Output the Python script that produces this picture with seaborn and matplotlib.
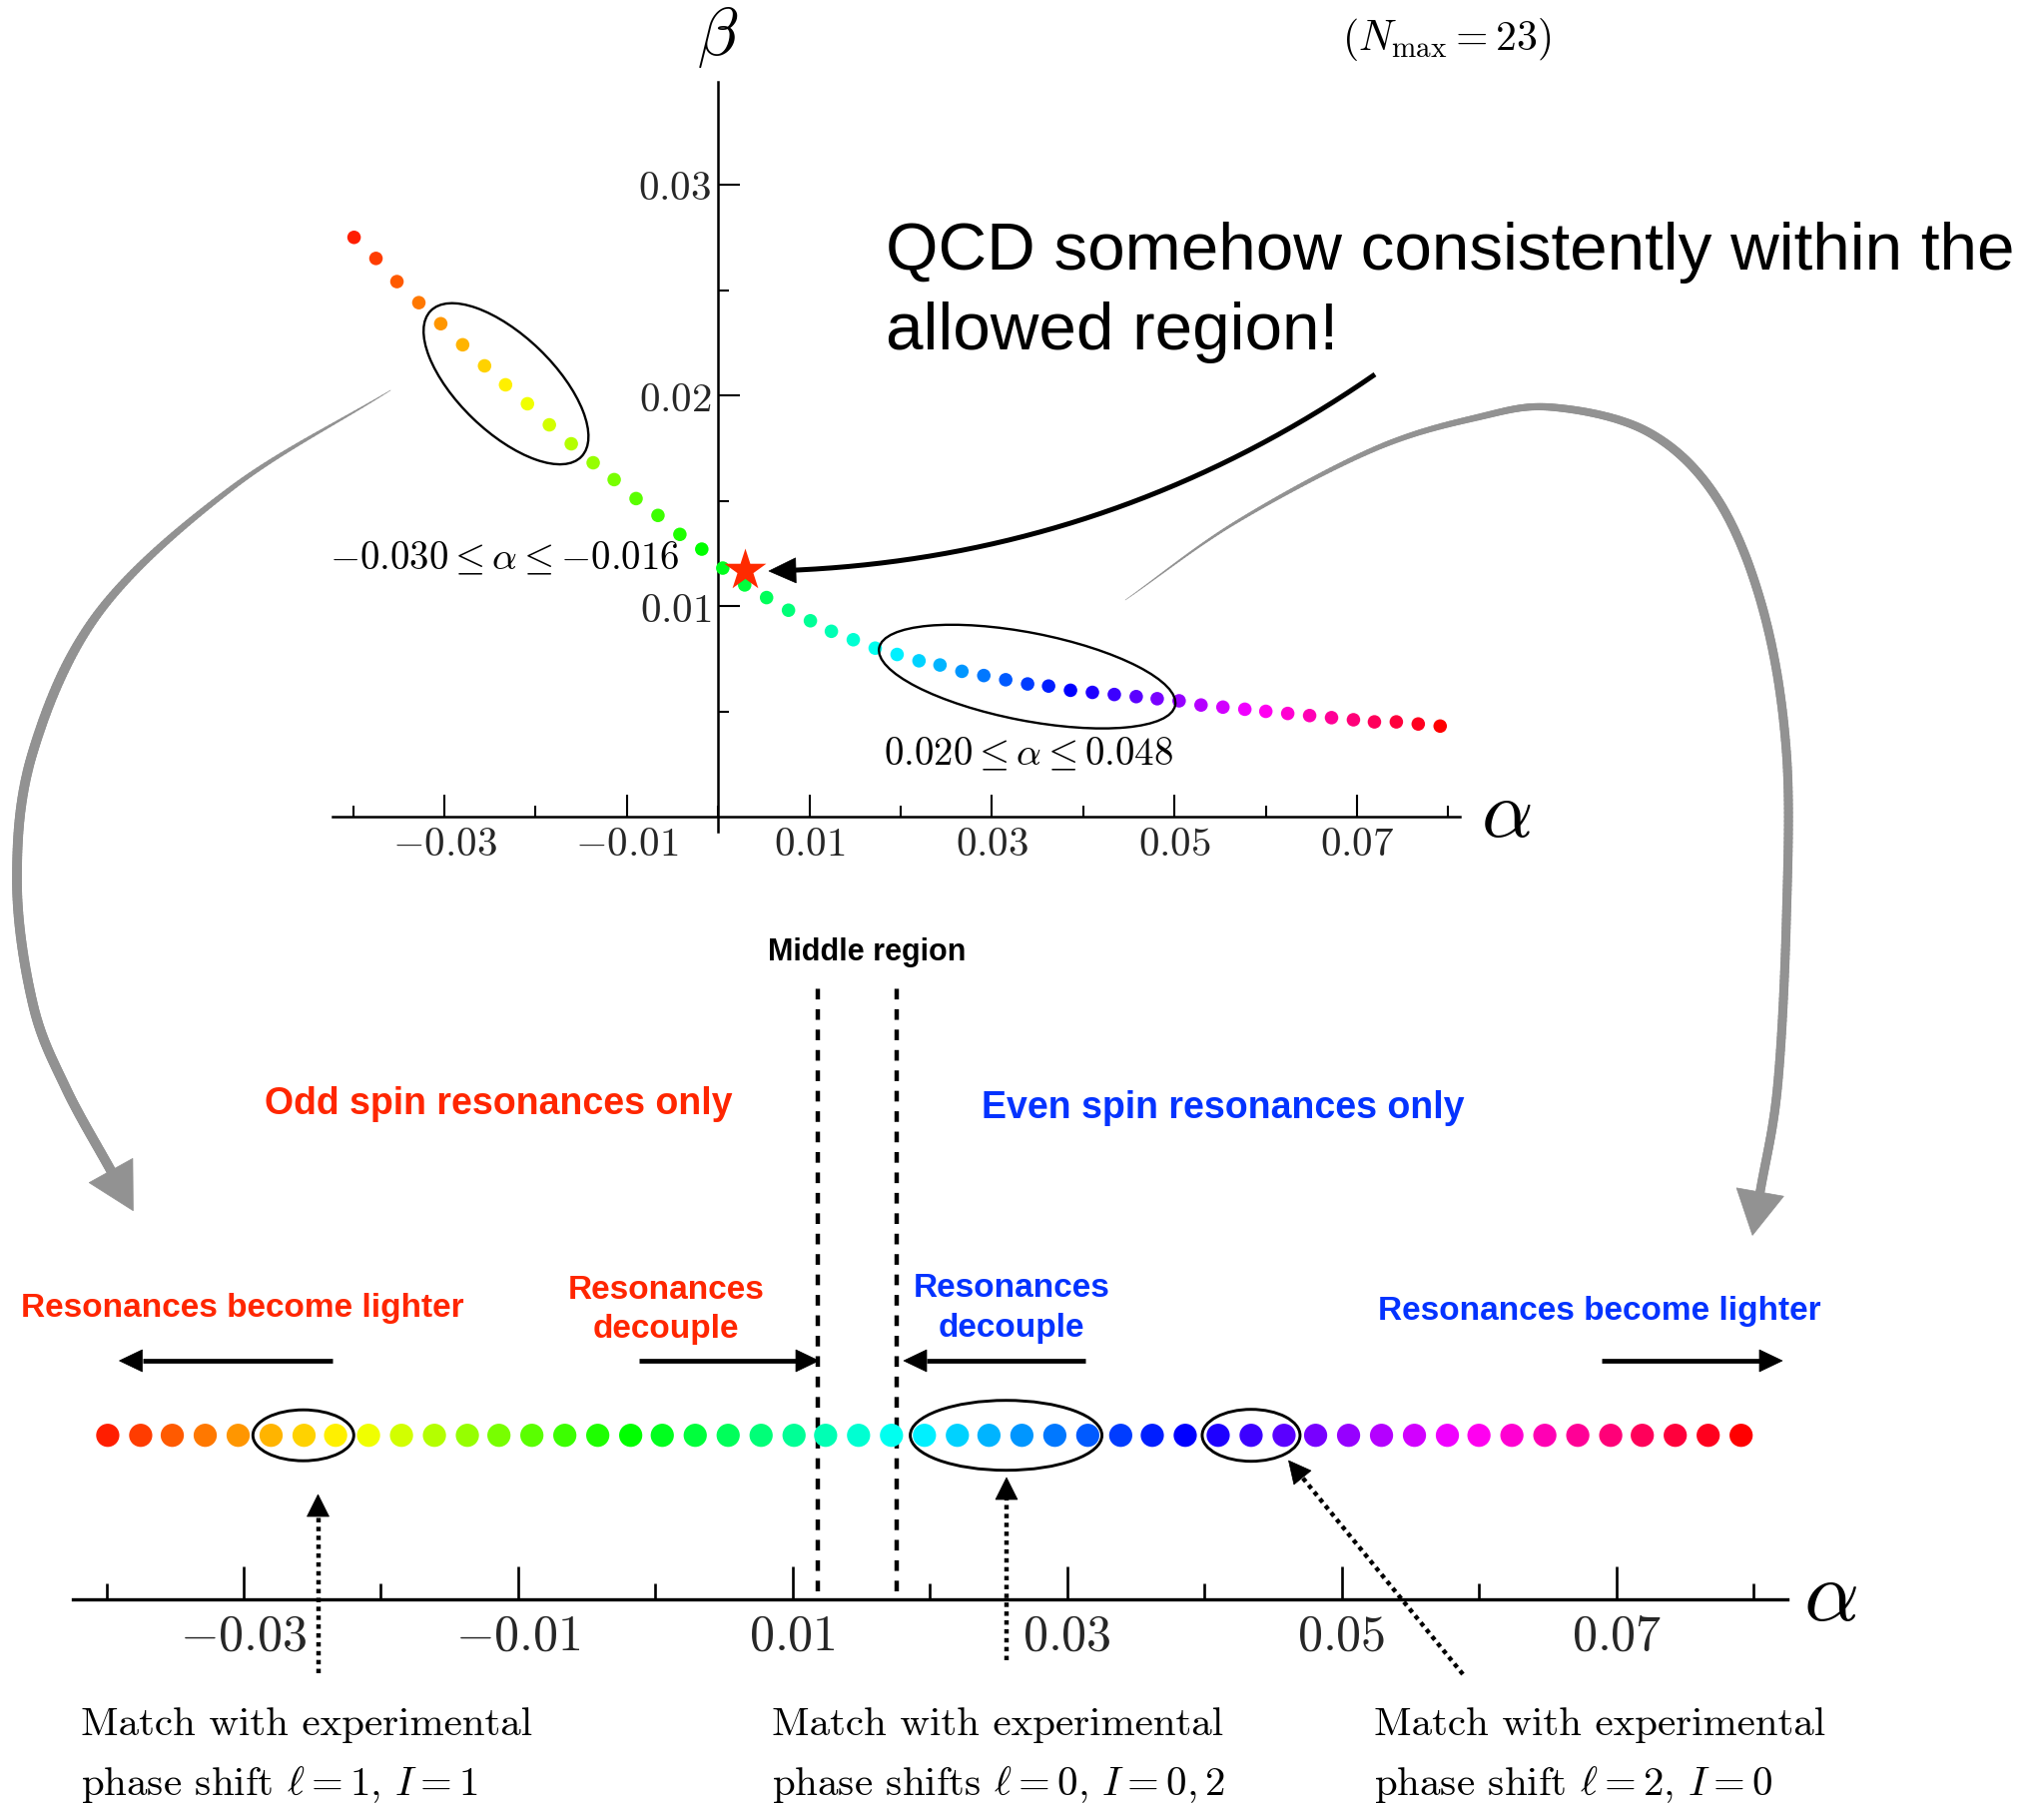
import numpy as np
import matplotlib
matplotlib.use("Agg")
import matplotlib.pyplot as plt
import seaborn as sns
import pandas as pd
import colorsys
from matplotlib.patches import Ellipse, Polygon
from matplotlib.collections import LineCollection

sns.set_theme(style="white")
plt.rcParams['mathtext.fontset'] = 'cm'
plt.rcParams['font.family'] = ['DejaVu Sans']

W, H, DPI = 2047, 1807, 100

# ---------------- data ----------------
alpha = [-0.0399, -0.0375, -0.0352, -0.0328, -0.0304, -0.0280, -0.0256, -0.0233, -0.0209, -0.0185,
         -0.0161, -0.0137, -0.0114, -0.0090, -0.0066, -0.0042, -0.0018, 0.0005, 0.0029, 0.0053,
         0.0077, 0.0101, 0.0124, 0.0148, 0.0172, 0.0196, 0.0220, 0.0243, 0.0267, 0.0291,
         0.0315, 0.0339, 0.0362, 0.0386, 0.0410, 0.0434, 0.0458, 0.0481, 0.0505, 0.0529,
         0.0553, 0.0577, 0.0600, 0.0624, 0.0648, 0.0672, 0.0696, 0.0719, 0.0743, 0.0767, 0.0791]
beta = [0.0275, 0.0265, 0.0254, 0.0244, 0.0234, 0.0224, 0.0214, 0.0205, 0.0196, 0.0186,
        0.0177, 0.0168, 0.0160, 0.0151, 0.0143, 0.0134, 0.0127, 0.0118, 0.0110, 0.0104,
        0.0098, 0.0093, 0.0088, 0.0084, 0.0080, 0.0077, 0.0074, 0.0072, 0.0069, 0.0067,
        0.0065, 0.0063, 0.0062, 0.0060, 0.0059, 0.0058, 0.0057, 0.0056, 0.0055, 0.0053,
        0.0052, 0.0051, 0.0050, 0.0049, 0.0048, 0.0047, 0.0046, 0.0045, 0.0045, 0.0044, 0.0043]
qcd_alpha = [0.0029]
qcd_beta = [0.0117]
middle_bounds = [0.0118, 0.0176]

top_groups = [(4, 10), (25, 37)]          # circled in the (alpha, beta) plot
bottom_groups = [(5, 7), (25, 30), (34, 36)]  # circled in the alpha strip

top_xmajor = [-0.03, -0.01, 0.01, 0.03, 0.05, 0.07]
top_xminor = [-0.04, -0.02, 0.0, 0.02, 0.04, 0.06, 0.08]
x_labels = [r'$-0.03$', r'$-0.01$', r'$0.01$', r'$0.03$', r'$0.05$', r'$0.07$']
top_ymajor = [0.01, 0.02, 0.03]
top_yminor = [0.005, 0.015, 0.025]
y_labels = [r'$0.01$', r'$0.02$', r'$0.03$']

RED = '#ff2600'
BLUE = '#0433ff'
GRAY = '#929292'

n = len(alpha)
idx = list(range(n))
colors = [colorsys.hsv_to_rgb(((k + 1) / n) % 1.0, 1.0, 1.0) for k in idx]
pal = dict(zip(idx, colors))

df = pd.DataFrame({'alpha': alpha, 'beta': beta, 'k': idx})

fig = plt.figure(figsize=(W / DPI, H / DPI), dpi=DPI)
fig.patch.set_facecolor('white')


def add_px_axes(left, top, right, bottom):
    return fig.add_axes([left / W, 1 - bottom / H, (right - left) / W, (bottom - top) / H])


# ---------------- top plot ----------------
ax = add_px_axes(333, 81.6, 1462, 832.8)
ax.patch.set_visible(False)
ax.set_xlim(-0.04226, 0.08126)
ax.set_ylim(-0.0007, 0.0349)
sns.scatterplot(data=df, x='alpha', y='beta', hue='k', palette=pal, s=95,
                linewidth=0, legend=False, ax=ax, zorder=3)
sns.scatterplot(x=qcd_alpha, y=qcd_beta, marker='*', s=1000, color='#ff2a00',
                linewidth=0, legend=False, ax=ax, zorder=4)
for side in ['top', 'right']:
    ax.spines[side].set_visible(False)
ax.spines['left'].set_position(('data', 0))
ax.spines['bottom'].set_position(('data', 0))
for side in ['left', 'bottom']:
    ax.spines[side].set_linewidth(1.8)
    ax.spines[side].set_color('black')
ax.set_xticks(top_xmajor)
ax.set_xticks(top_xminor, minor=True)
ax.set_xticklabels(x_labels)
ax.set_yticks(top_ymajor)
ax.set_yticks(top_yminor, minor=True)
ax.set_yticklabels(y_labels)
ax.tick_params(axis='both', which='both', direction='in', color='black', width=1.5,
               bottom=True, left=True, top=False, right=False)
ax.tick_params(axis='both', which='major', length=16, labelsize=29.5)
ax.tick_params(axis='both', which='minor', length=8)
ax.tick_params(axis='x', which='major', pad=6)
ax.tick_params(axis='y', which='major', pad=5)
ax.set_xlabel('')
ax.set_ylabel('')
ax.grid(False)

# ---------------- bottom strip ----------------
axb = add_px_axes(73, 980, 1790, 1602.3)
axb.patch.set_visible(False)
axb.set_xlim(-0.04244, 0.08247)
axb.set_ylim(0, 622.3)
STRIP_Y = 164.6
sns.scatterplot(x=alpha, y=[STRIP_Y] * n, hue=idx, palette=pal, s=280,
                linewidth=0, legend=False, ax=axb, zorder=3)
for side in ['top', 'right', 'left']:
    axb.spines[side].set_visible(False)
axb.spines['bottom'].set_linewidth(2.4)
axb.spines['bottom'].set_color('black')
axb.set_xticks(top_xmajor)
axb.set_xticks(top_xminor, minor=True)
axb.set_xticklabels(x_labels)
axb.set_yticks([])
axb.tick_params(axis='x', which='both', direction='in', color='black', width=1.9,
                bottom=True, top=False)
axb.tick_params(axis='x', which='major', length=24, labelsize=36, pad=9)
axb.tick_params(axis='x', which='minor', length=11.5)
axb.vlines(middle_bounds, 8, 617, colors='black', linewidth=3.2,
           linestyles=(0, (2.4, 2.2)), zorder=2)
axb.set_xlabel('')
axb.set_ylabel('')
axb.grid(False)

# ---------------- overlay in pixel coordinates ----------------
ov = fig.add_axes([0, 0, 1, 1])
ov.set_xlim(0, W)
ov.set_ylim(H, 0)
ov.axis('off')
ov.patch.set_alpha(0)
ov.set_zorder(5)


def to_ov(axis, xs, ys):
    d = axis.transData.transform(np.column_stack([xs, ys]))
    return ov.transData.inverted().transform(d)


def head(tip, direction, L, hw, color='black', z=6):
    d = np.asarray(direction, float)
    d = d / np.linalg.norm(d)
    nrm = np.array([-d[1], d[0]])
    tip = np.asarray(tip, float)
    base = tip - L * d
    ov.add_patch(Polygon([tip, base + hw * nrm, base - hw * nrm], closed=True,
                         facecolor=color, edgecolor=color, lw=0.5, zorder=z))
    return base


def straight_arrow(start, tip, lw, L, hw, ls='-', color='black'):
    start = np.asarray(start, float)
    tip = np.asarray(tip, float)
    base = head(tip, tip - start, L, hw, color)
    ov.plot([start[0], base[0]], [start[1], base[1]], color=color, lw=lw,
            linestyle=ls, solid_capstyle='butt', zorder=6)


def catmull(points, m=40):
    P = np.array(points, float)
    P = np.vstack([2 * P[0] - P[1], P, 2 * P[-1] - P[-2]])
    out = []
    t = np.linspace(0, 1, m, endpoint=False)[:, None]
    for i in range(1, len(P) - 2):
        p0, p1, p2, p3 = P[i - 1], P[i], P[i + 1], P[i + 2]
        out.append(0.5 * (2 * p1 + (-p0 + p2) * t + (2 * p0 - 5 * p1 + 4 * p2 - p3) * t ** 2
                          + (-p0 + 3 * p1 - 3 * p2 + p3) * t ** 3))
    out.append(P[-2][None])
    return np.vstack(out)


def tapered(points, w0, w1, L, hw, color=GRAY):
    pts = catmull(points)
    segs = np.stack([pts[:-1], pts[1:]], axis=1)
    seglen = np.linalg.norm(segs[:, 1] - segs[:, 0], axis=1)
    s = np.cumsum(seglen) / seglen.sum()
    widths = w0 + (w1 - w0) * np.clip(s / 0.45, 0, 1) ** 0.8
    ov.add_collection(LineCollection(segs, linewidths=widths, colors=color,
                                     capstyle='round', zorder=2))
    d = pts[-1] - pts[-6]
    d = d / np.linalg.norm(d)
    head(pts[-1] + L * d, d, L + 4, hw, color, z=2)


# ellipses on the top plot
top_ell = [(210, 96, 44), (302, 88, 11)]
for (a, b), (w, h, ang) in zip(top_groups, top_ell):
    p = to_ov(ax, [alpha[a], alpha[b]], [beta[a], beta[b]])
    c = p.mean(axis=0)
    ov.add_patch(Ellipse(c, w, h, angle=ang, fill=False, edgecolor='black', lw=1.7, zorder=6))

# ellipses on the strip
bot_ell = [(101, 51), (192, 70), (98, 52)]
for (a, b), (w, h) in zip(bottom_groups, bot_ell):
    p = to_ov(axb, [alpha[a], alpha[b]], [STRIP_Y, STRIP_Y])
    c = p.mean(axis=0)
    ov.add_patch(Ellipse(c, w, h, fill=False, edgecolor='black', lw=2.1, zorder=6))

# curved black arrow to the QCD star
P0 = np.array([1377.0, 375.0])
C = np.array([1104.0, 564.0])
P2 = np.array([770.0, 572.0])
tt = np.linspace(0, 1, 200)[:, None]
curve = (1 - tt) ** 2 * P0 + 2 * (1 - tt) * tt * C + tt ** 2 * P2
dtip = P2 - C
base = head(P2, dtip, 27, 12.5)
keep = np.linalg.norm(curve - P2, axis=1) >= 25
ov.plot(curve[keep, 0], curve[keep, 1], color='black', lw=3.6, solid_capstyle='butt', zorder=6)

# gray tapered arrows
tapered([(391, 391), (232, 489), (99.5, 612.8), (33, 753), (17, 882), (33, 1006),
         (66, 1090), (113, 1176)], 0.3, 7.0, 42, 25)
tapered([(1127, 601), (1238, 523), (1376, 450), (1480, 418), (1555, 408), (1651, 433),
         (1720, 500), (1766, 612), (1789, 753), (1789, 921), (1780, 1090), (1762, 1198)],
        0.3, 6.5, 40, 24)

# solid black arrows along the strip
for s, e in [((333, 1363), (119.5, 1363)), ((640, 1363), (820, 1363)),
             ((1087, 1363), (905, 1363)), ((1604, 1363), (1785, 1363))]:
    straight_arrow(s, e, 3.4, 23, 11)

# dotted arrows
for s, e in [((318.5, 1676), (318.5, 1497)), ((1008, 1663), (1008, 1480)),
             ((1465, 1677), (1290.5, 1463))]:
    straight_arrow(s, e, 3.2, 22, 11, ls=(0, (1, 1.0)))

# ---------------- texts ----------------
cm = dict(color='black')
ov.text(719, 37, r'$\beta$', fontsize=48, ha='center', va='center', **cm)
ov.text(1508, 816, r'$\alpha$', fontsize=58, ha='center', va='center', **cm)
ov.text(1833, 1600, r'$\alpha$', fontsize=62, ha='center', va='center', **cm)
ov.text(1449, 39, r'$(N_{\rm max} = 23)$', fontsize=30, ha='center', va='center', **cm)
ov.text(680, 570, r'$-0.030 \leq \alpha \leq {-0.016}$', fontsize=28, ha='right',
        va='baseline', **cm)
ov.text(885, 766, r'$0.020 \leq \alpha \leq 0.048$', fontsize=28, ha='left',
        va='baseline', **cm)

sans = dict(family='Liberation Sans')
ov.text(887, 270, 'QCD somehow consistently within the', fontsize=48.5, ha='left',
        va='baseline', color='black', **sans)
ov.text(887, 350, 'allowed region!', fontsize=48.5, ha='left', va='baseline',
        color='black', **sans)

bold = dict(family='Liberation Sans', fontweight='bold')
ov.text(868, 962, 'Middle region', fontsize=22, ha='center', va='baseline',
        color='black', **bold)
ov.text(499, 1116, 'Odd spin resonances only', fontsize=27, ha='center', va='baseline',
        color=RED, **bold)
ov.text(1225, 1120, 'Even spin resonances only', fontsize=27, ha='center', va='baseline',
        color=BLUE, **bold)
ov.text(243, 1319, 'Resonances become lighter', fontsize=24, ha='center', va='baseline',
        color=RED, **bold)
ov.text(1602, 1322, 'Resonances become lighter', fontsize=24, ha='center', va='baseline',
        color=BLUE, **bold)
ov.text(667, 1301, 'Resonances', fontsize=24, ha='center', va='baseline', color=RED, **bold)
ov.text(667, 1340, 'decouple', fontsize=24, ha='center', va='baseline', color=RED, **bold)
ov.text(1013, 1299, 'Resonances', fontsize=24, ha='center', va='baseline', color=BLUE, **bold)
ov.text(1013, 1339, 'decouple', fontsize=24, ha='center', va='baseline', color=BLUE, **bold)

match_lines = [(81, r'phase shift $\ell = 1,\, I = 1$'),
               (773, r'phase shifts $\ell = 0,\, I = 0, 2$'),
               (1376, r'phase shift $\ell = 2,\, I = 0$')]
for x0, second in match_lines:
    ov.text(x0, 1738, 'Match with experimental', fontsize=29.5, ha='left', va='baseline',
            family='cmr10', color='black')
    ov.text(x0, 1798, second, fontsize=29.5, ha='left', va='baseline',
            family='cmr10', color='black')

fig.savefig('out.png', dpi=DPI)
